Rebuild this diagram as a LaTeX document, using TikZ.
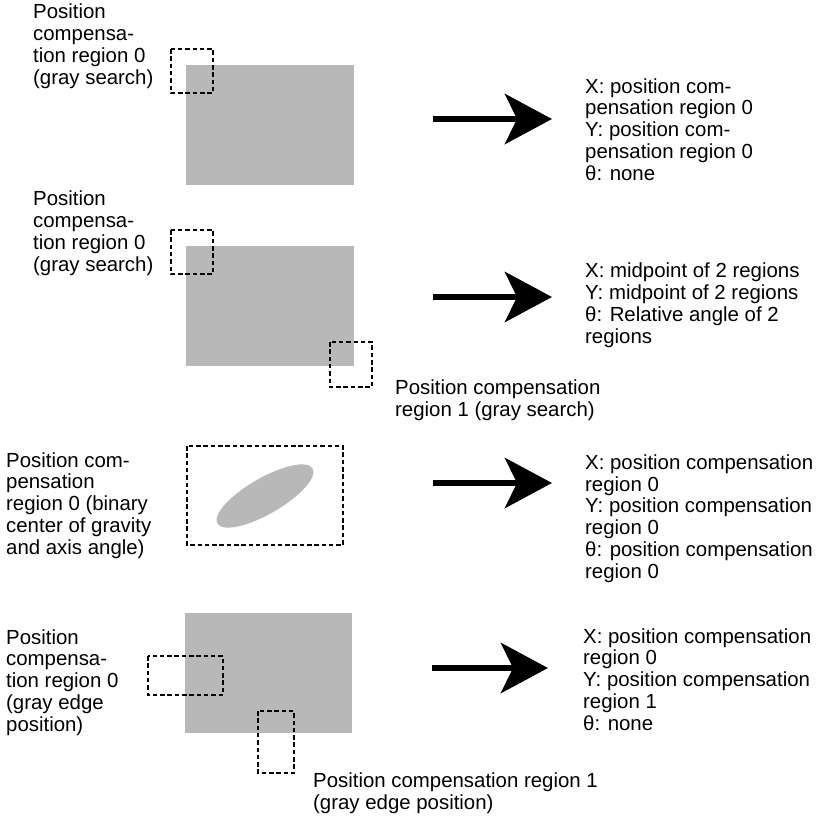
\documentclass[tikz,border=0pt]{standalone}
\usepackage{fontspec}
\setmainfont{Liberation Sans}
\usetikzlibrary{arrows.meta}
\begin{document}
\begin{tikzpicture}[x=1pt,y=-1pt,
  lbl/.style={anchor=base west, inner sep=0pt, align=left, font=\fontsize{20.4}{21.7}\selectfont},
  field/.style={fill=black!28, draw=none},
  roi/.style={draw=black, line width=2pt, dash pattern=on 4.5pt off 2.8pt},
  bigarrow/.style={line width=6.5pt, -{Stealth[length=47pt,width=50pt,inset=12pt]}}
]
\useasboundingbox (0,0) rectangle (836,815);
% panel 1
\fill[field] (186,65) rectangle (354,185);
\draw[roi] (171,49) rectangle (213,93);
\node[lbl] (t1l) at (33,84) {Position\\compensa-\\tion region 0\\(gray search)};
\node[lbl] (t1r) at (585,180) {X: position com-\\pensation region 0\\Y: position com-\\pensation region 0\\θ: none};
\coordinate (a1s) at (433,119);
\coordinate (a1e) at (552,119);
\draw[bigarrow] (a1s) -- (a1e);
% panel 2
\fill[field] (186,246) rectangle (354,366);
\draw[roi] (171,230) rectangle (213,274);
\draw[roi] (330,342) rectangle (372,387);
\node[lbl] (t2l) at (33,271) {Position\\compensa-\\tion region 0\\(gray search)};
\node[lbl] (t2r) at (585,343) {X: midpoint of 2 regions\\Y: midpoint of 2 regions\\θ: Relative angle of 2\\regions};
\node[lbl] (t2b) at (395,416) {Position compensation\\region 1 (gray search)};
\coordinate (a2s) at (433,297);
\coordinate (a2e) at (552,297);
\draw[bigarrow] (a2s) -- (a2e);
% panel 3
\draw[roi] (187,446) rectangle (343,545);
\fill[field, rotate around={30:(265,496)}] (265,496) ellipse [x radius=55pt, y radius=18pt];
\node[lbl] (t3l) at (6,554) {Position com-\\pensation\\region 0 (binary\\center of gravity\\and axis angle)};
\node[lbl] (t3r) at (585,578) {X: position compensation\\region 0\\Y: position compensation\\region 0\\θ: position compensation\\region 0};
\coordinate (a3s) at (433,483);
\coordinate (a3e) at (552,483);
\draw[bigarrow] (a3s) -- (a3e);
% panel 4
\fill[field] (185,613) rectangle (352,733);
\draw[roi] (148,656) rectangle (223,695);
\draw[roi] (258,711) rectangle (294,773);
\node[lbl] (t4l) at (6,731) {Position\\compensa-\\tion region 0\\(gray edge\\position)};
\node[lbl] (t4r) at (583,730) {X: position compensation\\region 0\\Y: position compensation\\region 1\\θ: none};
\node[lbl] (t4b) at (313,809) {Position compensation region 1\\(gray edge position)};
\coordinate (a4s) at (432,668);
\coordinate (a4e) at (548,668);
\draw[bigarrow] (a4s) -- (a4e);
\end{tikzpicture}
\end{document}
